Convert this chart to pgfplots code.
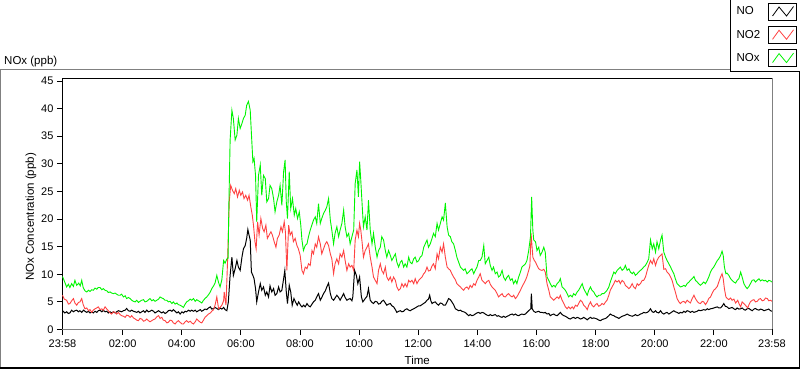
\documentclass[border=0pt]{standalone}
\usepackage{fontspec}
\setmainfont{Liberation Sans}
\usepackage{pgfplots}
\usepackage{pgfplotstable}
\pgfplotsset{compat=1.18}
\definecolor{noxgreen}{RGB}{0,245,0}
\definecolor{no2red}{RGB}{255,66,66}
\definecolor{framegray}{RGB}{128,128,128}

\pgfplotstableread{
h v
0 3.4
0.08 3.0
0.14 3.2
0.2 2.9
0.25 3.0
0.31 3.5
0.37 3.2
0.42 3.4
0.48 3.5
0.54 3.2
0.59 3.4
0.65 3.1
0.71 3.5
0.76 3.3
0.82 3.1
0.88 3.3
0.93 3.0
0.99 3.2
1.04 3.0
1.1 3.3
1.16 3.1
1.21 3.4
1.27 3.5
1.33 3.2
1.38 3.5
1.44 3.2
1.5 3.3
1.55 3.0
1.61 3.2
1.66 3.0
1.72 3.2
1.78 3.0
1.83 3.2
1.89 3.4
1.95 3.3
2.0 3.2
2.06 3.4
2.12 3.5
2.17 3.8
2.23 3.4
2.29 3.3
2.34 3.5
2.4 3.3
2.46 3.2
2.51 3.1
2.57 3.3
2.62 3.0
2.68 3.2
2.74 3.4
2.79 3.1
2.85 3.5
2.91 3.2
2.96 3.3
3.02 3.5
3.08 3.3
3.13 3.0
3.19 3.2
3.25 3.4
3.3 3.2
3.36 3.0
3.41 3.2
3.47 2.9
3.53 3.1
3.58 3.4
3.64 3.5
3.7 3.3
3.75 3.6
3.81 3.3
3.87 3.0
3.92 3.2
3.98 2.8
4.04 3.2
4.09 3.0
4.15 3.3
4.2 3.2
4.26 3.5
4.32 3.3
4.37 3.5
4.43 3.3
4.49 3.5
4.54 3.2
4.6 3.4
4.66 3.6
4.71 3.3
4.77 3.5
4.82 3.7
4.88 3.6
4.94 3.9
5.0 4.1
5.05 3.7
5.11 3.8
5.16 4.0
5.22 3.8
5.28 3.6
5.33 3.9
5.39 3.7
5.45 4.0
5.5 3.6
5.56 3.4
5.61 5.0
5.67 9.8
5.73 13.1
5.78 9.8
5.84 11.0
5.9 12.5
5.95 11.3
6.01 10.7
6.07 13.1
6.12 14.6
6.18 15.2
6.23 16.5
6.27 18.1
6.31 17.1
6.35 16.2
6.39 10.4
6.44 9.8
6.48 9.2
6.53 7.4
6.57 5.0
6.63 6.8
6.69 8.3
6.74 7.1
6.8 7.7
6.86 6.2
6.91 6.8
6.97 5.9
7.02 7.9
7.08 6.8
7.14 7.4
7.19 6.2
7.25 6.5
7.31 7.7
7.36 6.8
7.42 7.1
7.48 9.2
7.52 10.7
7.57 6.8
7.61 4.7
7.67 8.0
7.72 6.8
7.77 4.4
7.83 5.6
7.88 5.0
7.94 4.4
7.99 5.0
8.05 4.4
8.1 4.1
8.16 4.4
8.21 4.1
8.27 4.7
8.32 4.3
8.38 4.1
8.44 4.6
8.49 5.0
8.55 5.3
8.6 5.9
8.66 6.5
8.72 5.3
8.77 5.8
8.83 6.5
8.89 7.0
8.94 7.7
9.0 8.4
9.06 6.5
9.11 5.6
9.17 5.3
9.22 5.7
9.28 6.2
9.34 5.8
9.39 5.3
9.45 5.9
9.51 6.5
9.56 5.8
9.62 5.3
9.68 5.5
9.73 5.6
9.79 5.2
9.82 5.9
9.88 10.7
9.94 9.8
9.99 8.3
10.05 9.5
10.11 5.9
10.16 5.0
10.24 5.6
10.3 6.0
10.35 7.4
10.41 5.3
10.47 4.9
10.52 4.7
10.58 5.1
10.64 5.0
10.69 4.6
10.75 4.7
10.8 5.1
10.86 5.3
10.92 4.8
10.97 4.4
11.03 4.6
11.09 4.7
11.14 4.3
11.2 4.1
11.26 3.6
11.31 3.1
11.37 3.3
11.43 3.4
11.48 3.2
11.54 3.3
11.59 3.6
11.65 3.75
11.71 3.5
11.76 3.4
11.82 3.6
11.88 3.75
11.93 3.9
11.99 4.1
12.05 4.3
12.1 4.3
12.16 4.5
12.21 4.7
12.27 4.9
12.33 5.3
12.38 5.5
12.42 6.2
12.46 5.2
12.5 4.7
12.55 4.9
12.61 5.0
12.67 4.6
12.72 4.4
12.78 4.8
12.84 4.7
12.89 4.4
12.95 4.4
13.01 5.0
13.06 5.6
13.12 5.4
13.17 5.0
13.23 4.5
13.29 3.75
13.34 3.6
13.4 3.4
13.46 3.5
13.51 3.3
13.57 3.2
13.62 3.1
13.68 2.8
13.74 2.5
13.79 2.7
13.85 2.5
13.91 2.6
13.96 2.8
14.02 3.0
14.08 3.1
14.13 2.9
14.19 3.1
14.25 3.0
14.3 2.8
14.36 2.6
14.42 2.5
14.47 2.7
14.53 2.5
14.58 2.6
14.64 2.7
14.7 2.4
14.75 2.5
14.81 2.3
14.87 2.2
14.92 2.4
14.98 2.2
15.04 2.4
15.09 2.5
15.15 2.7
15.21 2.8
15.26 2.6
15.32 2.8
15.37 2.6
15.43 2.5
15.49 2.7
15.54 2.8
15.6 2.7
15.66 2.8
15.71 3.1
15.77 3.4
15.84 3.75
15.86 6.5
15.89 3.75
15.94 3.3
16.0 3.1
16.05 3.2
16.11 3.3
16.16 3.1
16.22 3.1
16.28 3.0
16.33 3.1
16.39 2.8
16.45 2.9
16.5 2.5
16.56 2.7
16.62 2.8
16.67 2.6
16.73 2.5
16.79 2.8
16.84 3.1
16.9 2.7
16.96 2.5
17.01 2.4
17.07 2.2
17.12 2.0
17.18 1.9
17.24 2.1
17.29 2.2
17.35 2.0
17.41 2.2
17.46 2.1
17.52 1.9
17.58 2.0
17.63 2.2
17.69 2.0
17.75 1.75
17.8 2.0
17.86 2.2
17.91 2.0
17.97 2.1
18.03 2.0
18.08 1.9
18.14 1.7
18.2 1.6
18.25 1.8
18.31 1.9
18.37 2.0
18.42 2.2
18.48 2.5
18.53 2.8
18.59 2.6
18.65 2.5
18.7 2.3
18.76 2.2
18.82 2.0
18.87 2.2
18.93 2.4
18.99 2.5
19.04 2.6
19.1 2.8
19.16 2.6
19.21 2.5
19.27 2.4
19.32 2.5
19.38 2.7
19.44 2.5
19.49 2.6
19.55 2.8
19.61 2.9
19.66 3.1
19.72 3.0
19.78 3.1
19.83 3.3
19.89 3.75
19.95 3.2
20.0 3.1
20.06 3.4
20.11 3.1
20.17 3.0
20.23 3.4
20.28 3.0
20.34 2.8
20.4 3.0
20.45 3.1
20.51 2.8
20.57 3.0
20.62 3.2
20.68 3.4
20.73 3.2
20.79 3.1
20.85 2.9
20.9 3.1
20.96 3.0
21.02 3.3
21.07 3.1
21.13 3.4
21.19 3.3
21.24 3.1
21.3 3.3
21.36 3.1
21.41 3.2
21.47 3.3
21.52 3.5
21.58 3.4
21.64 3.5
21.69 3.6
21.75 3.5
21.81 3.75
21.86 3.6
21.92 3.75
21.98 3.8
22.03 3.9
22.09 4.0
22.15 4.1
22.2 3.9
22.26 3.9
22.31 4.2
22.37 4.7
22.42 4.2
22.48 4.1
22.54 3.8
22.6 3.9
22.65 4.0
22.71 3.75
22.77 3.6
22.82 3.9
22.88 3.7
22.94 3.75
22.99 3.9
23.05 3.6
23.1 3.5
23.16 3.75
23.22 3.8
23.27 3.6
23.33 3.4
23.39 3.7
23.44 3.8
23.5 3.6
23.56 3.5
23.61 3.7
23.67 3.6
23.73 3.4
23.78 3.5
23.84 3.6
23.89 3.7
23.95 3.4
24.0 3.3
}\tableNO

\pgfplotstableread{
h v
0 6.2
0.06 5.5
0.14 5.3
0.2 4.6
0.25 4.7
0.31 5.2
0.37 5.6
0.42 4.8
0.48 4.4
0.54 4.9
0.59 5.0
0.65 5.6
0.7 4.5
0.76 3.75
0.82 3.9
0.88 3.4
0.93 3.6
0.99 3.1
1.04 3.5
1.1 3.75
1.16 3.9
1.21 4.1
1.27 3.6
1.33 3.75
1.38 3.5
1.44 4.1
1.5 3.7
1.55 3.4
1.61 3.0
1.66 2.8
1.72 3.2
1.78 3.1
1.83 2.8
1.89 3.1
1.95 2.7
2.0 2.5
2.06 2.4
2.12 2.2
2.17 2.6
2.23 2.5
2.29 2.2
2.34 2.5
2.4 2.1
2.46 1.9
2.51 1.7
2.57 1.6
2.62 2.0
2.68 1.9
2.74 1.5
2.79 1.6
2.85 1.9
2.91 1.6
2.96 1.4
3.02 1.6
3.08 1.8
3.13 1.9
3.19 2.3
3.25 2.5
3.3 2.0
3.36 2.2
3.41 1.7
3.47 1.6
3.53 1.2
3.58 1.3
3.64 1.7
3.7 1.6
3.75 1.2
3.81 1.0
3.87 1.4
3.92 1.6
3.98 1.3
4.04 1.0
4.09 1.0
4.15 1.4
4.2 1.6
4.26 1.3
4.32 1.5
4.37 1.2
4.43 1.0
4.49 1.4
4.54 1.9
4.6 1.6
4.66 1.3
4.71 1.2
4.77 1.7
4.82 2.2
4.88 2.5
4.94 2.8
5.0 3.0
5.05 3.3
5.11 3.6
5.16 4.4
5.22 5.9
5.28 3.75
5.33 4.0
5.39 4.4
5.45 5.2
5.47 6.8
5.53 4.4
5.59 13.4
5.64 23.1
5.69 26.1
5.75 25.2
5.81 24.6
5.86 25.5
5.92 24.0
5.98 25.2
6.03 24.3
6.09 24.9
6.14 23.7
6.2 24.3
6.26 23.4
6.31 24.3
6.37 22.2
6.42 20.7
6.46 18.9
6.51 15.9
6.55 14.6
6.6 19.5
6.65 17.1
6.71 20.1
6.77 18.3
6.82 17.7
6.88 18.9
6.93 16.5
6.99 17.1
7.05 17.7
7.1 17.1
7.16 15.9
7.22 14.9
7.27 16.5
7.33 17.1
7.39 18.6
7.44 17.7
7.5 19.5
7.54 17.7
7.59 10.7
7.65 18.9
7.7 17.1
7.76 17.7
7.81 15.9
7.87 16.5
7.93 15.2
7.98 14.6
8.04 13.4
8.1 10.7
8.15 10.1
8.21 11.3
8.27 11.0
8.32 11.9
8.38 11.6
8.44 14.3
8.49 13.7
8.55 15.5
8.6 14.9
8.66 16.8
8.72 15.5
8.77 13.7
8.83 14.6
8.89 15.5
8.94 15.9
9.0 15.2
9.06 13.7
9.11 12.8
9.17 10.1
9.22 11.9
9.28 12.8
9.34 11.9
9.39 13.7
9.45 13.1
9.51 14.3
9.56 12.5
9.62 10.7
9.68 11.9
9.73 11.3
9.79 11.6
9.85 10.7
9.9 16.2
9.96 18.0
10.01 16.8
10.05 19.2
10.09 18.0
10.14 15.5
10.18 13.1
10.24 14.3
10.3 14.9
10.35 15.5
10.41 13.1
10.47 11.3
10.52 9.5
10.58 8.9
10.64 8.3
10.69 10.7
10.75 11.9
10.8 10.7
10.86 10.1
10.92 11.3
10.97 9.5
11.03 8.9
11.09 9.5
11.14 8.6
11.2 9.5
11.26 8.9
11.31 7.7
11.37 7.1
11.43 7.4
11.48 8.3
11.54 7.7
11.59 8.3
11.65 7.7
11.71 8.9
11.76 8.6
11.82 8.9
11.88 8.3
11.93 9.2
11.99 8.3
12.05 8.9
12.1 9.2
12.16 9.5
12.22 10.1
12.27 10.4
12.33 11.3
12.38 10.6
12.44 10.7
12.5 11.5
12.55 11.9
12.61 11.0
12.67 13.7
12.72 12.8
12.78 14.9
12.84 14.0
12.89 15.5
12.95 13.1
13.01 11.3
13.06 11.0
13.12 10.7
13.17 10.1
13.23 9.5
13.29 9.0
13.34 8.3
13.4 8.0
13.46 7.7
13.51 7.4
13.57 7.1
13.62 7.5
13.68 7.7
13.74 7.3
13.79 8.0
13.85 7.6
13.91 8.3
13.96 8.0
14.02 8.9
14.08 9.5
14.13 10.1
14.19 8.9
14.25 8.6
14.3 8.3
14.36 8.7
14.42 8.9
14.47 8.2
14.53 7.7
14.58 7.4
14.64 7.1
14.7 6.5
14.75 5.9
14.81 6.2
14.87 6.5
14.92 6.0
14.98 5.9
15.04 6.3
15.09 6.5
15.15 6.1
15.21 5.9
15.26 6.2
15.32 5.6
15.37 5.9
15.43 6.5
15.49 7.1
15.54 7.7
15.6 8.3
15.66 8.9
15.71 9.6
15.77 10.7
15.81 11.5
15.85 17.4
15.91 13.1
15.96 12.5
16.0 12.2
16.05 11.6
16.11 11.0
16.16 10.8
16.22 10.7
16.28 10.9
16.33 10.4
16.39 8.3
16.45 7.1
16.5 5.9
16.56 5.6
16.62 5.3
16.67 5.6
16.73 5.9
16.79 5.6
16.84 6.2
16.9 5.3
16.96 4.7
17.01 4.1
17.07 3.75
17.12 4.1
17.18 3.75
17.24 4.1
17.29 3.75
17.35 4.4
17.41 4.2
17.46 4.7
17.52 5.3
17.58 5.0
17.63 4.4
17.69 4.1
17.75 3.6
17.8 4.4
17.86 5.0
17.91 4.4
17.97 4.1
18.03 4.5
18.08 4.7
18.14 4.2
18.2 4.4
18.25 4.7
18.31 4.5
18.37 5.0
18.42 5.3
18.48 6.2
18.53 7.1
18.59 7.7
18.65 8.3
18.7 8.9
18.76 8.6
18.82 8.9
18.87 8.3
18.93 8.9
18.99 8.6
19.04 8.0
19.1 7.7
19.16 7.4
19.21 7.7
19.27 8.3
19.32 7.7
19.38 7.4
19.44 8.3
19.49 8.0
19.55 8.3
19.61 8.9
19.66 8.9
19.72 9.5
19.78 10.7
19.83 11.6
19.89 12.5
19.95 11.9
20.0 12.8
20.06 11.6
20.11 12.5
20.17 13.1
20.23 13.4
20.28 13.7
20.34 10.9
20.4 11.0
20.45 10.4
20.51 10.1
20.57 9.5
20.62 8.9
20.68 7.7
20.73 6.8
20.79 5.6
20.85 5.0
20.9 4.7
20.96 5.0
21.02 5.1
21.07 4.8
21.13 5.3
21.19 5.0
21.24 4.8
21.3 5.6
21.36 6.2
21.41 5.6
21.47 5.1
21.52 4.8
21.58 4.7
21.64 5.1
21.69 5.0
21.75 4.5
21.81 5.0
21.86 5.6
21.92 5.9
21.98 6.6
22.03 7.1
22.09 7.4
22.15 7.8
22.2 8.6
22.26 9.5
22.31 10.1
22.35 9.2
22.39 7.4
22.44 5.9
22.49 5.6
22.54 5.4
22.6 5.7
22.65 5.3
22.71 5.5
22.77 4.8
22.84 5.3
22.89 4.6
22.94 4.1
22.99 5.0
23.05 4.7
23.1 4.4
23.18 3.9
23.22 4.5
23.27 5.0
23.33 5.3
23.39 5.4
23.44 5.0
23.5 5.1
23.56 5.5
23.61 5.6
23.67 5.2
23.73 5.3
23.78 5.7
23.84 5.6
23.89 5.2
23.95 5.3
24.0 5.1
}\tableNOtwo

\pgfplotstableread{
h v
0 9.6
0.06 8.8
0.14 7.7
0.2 8.2
0.25 7.6
0.31 8.3
0.37 7.8
0.42 8.9
0.48 8.0
0.55 8.4
0.6 7.9
0.65 8.9
0.7 7.6
0.76 7.0
0.82 6.8
0.88 7.1
0.93 6.9
0.99 7.2
1.04 7.1
1.1 7.5
1.16 7.3
1.21 7.6
1.27 7.6
1.33 7.2
1.38 7.4
1.44 7.1
1.5 7.0
1.55 6.7
1.61 6.8
1.66 6.6
1.72 6.5
1.78 6.6
1.83 6.4
1.89 6.2
1.95 6.2
2.0 6.4
2.06 5.9
2.12 6.1
2.17 5.6
2.23 5.8
2.29 5.6
2.34 5.3
2.4 5.1
2.46 5.0
2.51 5.3
2.57 4.9
2.62 5.1
2.68 5.3
2.74 5.4
2.79 5.0
2.85 5.1
2.91 5.4
2.96 5.6
3.02 5.2
3.08 5.4
3.13 5.1
3.19 5.3
3.25 5.5
3.3 5.9
3.36 5.7
3.41 5.6
3.47 5.3
3.53 5.3
3.58 5.0
3.64 5.1
3.7 4.7
3.75 5.0
3.81 4.6
3.87 4.8
3.92 4.5
3.98 4.4
4.04 4.2
4.09 4.0
4.15 4.6
4.2 5.0
4.26 5.2
4.32 5.5
4.37 5.3
4.43 5.6
4.49 5.1
4.54 5.4
4.6 5.2
4.66 5.0
4.71 4.8
4.77 5.3
4.82 5.6
4.88 5.9
4.94 6.3
5.0 6.8
5.05 7.4
5.11 7.9
5.16 8.4
5.22 9.8
5.28 8.5
5.33 7.7
5.39 9.0
5.45 12.5
5.5 12.0
5.56 12.8
5.6 12.9
5.63 23.1
5.67 34.3
5.73 39.7
5.78 38.2
5.84 34.3
5.9 35.2
5.95 38.2
6.01 36.4
6.07 37.3
6.12 38.2
6.18 38.8
6.23 40.6
6.29 41.3
6.35 39.7
6.39 35.5
6.44 30.4
6.48 31.0
6.53 27.9
6.57 19.5
6.63 27.9
6.69 29.8
6.74 24.3
6.8 27.9
6.86 27.3
6.91 23.1
6.97 23.7
7.02 26.1
7.08 25.5
7.14 23.7
7.19 21.3
7.25 23.1
7.31 24.3
7.36 26.1
7.42 22.5
7.48 28.6
7.53 30.7
7.57 23.1
7.61 20.1
7.67 28.6
7.72 21.9
7.78 23.7
7.84 20.7
7.89 21.9
7.95 20.1
8.01 21.3
8.06 18.9
8.1 16.2
8.15 14.3
8.21 15.2
8.27 15.5
8.32 16.8
8.38 18.0
8.44 19.0
8.49 19.8
8.55 20.4
8.6 19.2
8.66 22.8
8.72 19.2
8.77 20.1
8.83 21.0
8.89 21.6
8.94 22.2
9.0 23.7
9.06 19.8
9.11 18.0
9.17 15.5
9.22 17.4
9.28 18.6
9.34 16.8
9.39 18.0
9.45 19.2
9.51 21.6
9.56 18.6
9.62 16.8
9.68 17.4
9.73 15.5
9.79 16.8
9.85 18.0
9.9 26.4
9.96 28.9
10.01 24.0
10.05 30.4
10.09 27.0
10.14 22.2
10.18 18.6
10.24 20.4
10.3 18.0
10.35 23.4
10.41 18.0
10.47 15.5
10.52 17.4
10.58 14.9
10.64 13.1
10.69 14.3
10.75 14.9
10.8 16.8
10.86 16.2
10.92 14.3
10.97 13.1
11.03 14.3
11.09 13.4
11.14 12.5
11.2 13.1
11.26 13.7
11.31 12.2
11.37 11.3
11.43 12.2
11.48 12.5
11.54 11.3
11.59 11.9
11.65 11.3
11.71 13.1
11.76 12.2
11.82 11.9
11.88 12.8
11.93 13.1
11.99 12.2
12.05 12.5
12.1 13.1
12.16 13.4
12.22 14.9
12.27 15.5
12.33 16.2
12.38 14.9
12.44 15.5
12.5 16.5
12.55 17.4
12.61 16.8
12.67 19.2
12.72 18.0
12.78 19.2
12.84 20.4
12.89 19.8
12.95 22.9
13.01 18.6
13.06 17.1
13.12 16.8
13.17 15.9
13.23 15.5
13.29 14.3
13.34 13.1
13.4 12.2
13.46 11.3
13.51 11.0
13.57 10.7
13.62 11.0
13.68 10.1
13.74 10.4
13.79 10.7
13.85 11.0
13.91 10.1
13.96 10.7
14.02 11.3
14.08 12.5
14.13 12.5
14.19 13.1
14.25 15.2
14.3 11.9
14.36 12.5
14.42 13.1
14.47 11.6
14.53 10.7
14.58 11.3
14.64 10.1
14.7 10.4
14.75 9.5
14.81 9.8
14.87 10.7
14.92 9.5
14.98 8.9
15.04 9.5
15.09 9.8
15.15 8.9
15.21 9.2
15.26 8.3
15.32 8.9
15.37 8.3
15.43 9.5
15.49 10.4
15.54 11.3
15.6 11.6
15.66 11.9
15.71 12.5
15.77 14.3
15.83 16.8
15.87 24.0
15.91 18.0
15.94 16.2
16.0 15.9
16.05 14.3
16.11 14.9
16.16 13.4
16.22 14.0
16.28 14.9
16.33 14.0
16.39 9.5
16.45 8.9
16.5 8.3
16.56 7.7
16.62 8.0
16.67 7.7
16.73 8.3
16.79 8.6
16.84 9.2
16.9 7.7
16.96 7.4
17.01 7.1
17.07 6.5
17.12 5.9
17.18 6.2
17.24 5.9
17.29 6.5
17.35 6.2
17.41 6.8
17.46 7.1
17.52 7.7
17.58 8.3
17.63 7.4
17.69 6.8
17.75 6.2
17.8 7.1
17.86 7.7
17.91 7.1
17.97 6.8
18.03 6.2
18.08 5.9
18.14 6.2
18.2 6.2
18.25 6.5
18.31 6.5
18.37 6.8
18.42 7.1
18.48 7.7
18.53 8.6
18.59 9.5
18.65 10.4
18.7 10.1
18.76 10.7
18.82 11.0
18.87 11.3
18.93 10.7
18.99 11.0
19.04 11.6
19.1 10.7
19.16 11.0
19.21 10.4
19.27 10.1
19.32 10.4
19.38 9.8
19.44 10.1
19.49 10.4
19.55 10.7
19.61 11.0
19.66 11.3
19.72 11.6
19.78 12.2
19.83 12.8
19.89 16.2
19.95 14.6
20.0 15.5
20.06 14.0
20.11 15.9
20.17 14.6
20.23 16.2
20.28 17.1
20.34 14.0
20.4 13.1
20.45 12.5
20.51 11.9
20.57 11.3
20.62 10.7
20.68 10.1
20.73 9.2
20.79 8.3
20.85 8.0
20.9 7.7
20.96 7.8
21.02 8.0
21.07 7.8
21.13 8.3
21.19 8.6
21.24 8.9
21.3 9.2
21.36 9.6
21.41 8.9
21.47 8.6
21.52 8.3
21.58 8.0
21.64 8.3
21.69 8.6
21.75 8.3
21.81 8.9
21.86 9.5
21.92 10.4
21.98 11.0
22.03 11.3
22.09 11.9
22.15 12.5
22.2 12.8
22.26 13.4
22.31 14.2
22.35 13.4
22.39 11.3
22.44 10.1
22.48 10.2
22.54 9.8
22.6 9.2
22.65 8.9
22.71 8.6
22.77 8.4
22.82 8.9
22.88 9.2
22.94 10.4
22.99 9.5
23.05 8.3
23.1 7.8
23.16 7.4
23.22 7.8
23.27 8.3
23.33 8.9
23.39 9.0
23.44 8.6
23.5 8.9
23.56 9.2
23.61 8.8
23.67 9.0
23.73 8.8
23.78 8.9
23.84 8.6
23.89 8.9
23.95 8.8
24.0 8.6
}\tableNOx

\begin{document}
\begin{tikzpicture}
\useasboundingbox (0,0) rectangle (800pt,369pt);
% outer panel frame
\draw[framegray, line width=1pt] (0.5pt,0pt) -- (0.5pt,299.5pt) -- (731pt,299.5pt);
\draw[black, line width=1.5pt] (0pt,1pt) -- (800pt,1pt);
\draw[black, line width=1pt] (799.5pt,1pt) -- (799.5pt,297pt);
\node[anchor=base west, inner sep=0pt, font=\fontsize{11.5}{13}\selectfont] at (4pt,304pt) {NOx (ppb)};
\begin{axis}[
  at={(62.5pt,39.5pt)}, anchor=south west,
  width=709.5pt, height=251pt, scale only axis,
  xmin=0, xmax=24, ymin=0, ymax=45.45,
  enlargelimits=false, clip=false,
  axis lines=left,
  axis line style={-},
  x axis line style={framegray, line width=1pt},
  y axis line style={black, line width=1pt},
  xtick={0,2.0333,4.0333,6.0333,8.0333,10.0333,12.0333,14.0333,16.0333,18.0333,20.0333,22.0333,24},
  xticklabels={23:58,02:00,04:00,06:00,08:00,10:00,12:00,14:00,16:00,18:00,20:00,22:00,23:58},
  minor x tick num=7,
  ytick={0,5,...,45},
  tick align=outside,
  major tick length=5.5pt, minor tick length=3.5pt,
  tick style={black, line width=0.8pt},
  tick label style={font=\fontsize{11}{12}\selectfont, black},
  xticklabel style={yshift=-1.5pt},
  /pgf/number format/assume math mode=true,
  xlabel={Time}, ylabel={NOx Concentration (ppb)},
  label style={font=\fontsize{11.5}{13}\selectfont},
  xlabel style={at={(axis description cs:0.5,-0.1375)}, anchor=base},
  ylabel style={at={(axis description cs:-0.0444,0.448)}, anchor=center},
  legend plot pos=right,
  legend cell align=left,
  legend style={at={(axis description cs:0.9408,1.0259)}, anchor=south west,
    draw=black, line width=1pt, fill=white,
    font=\fontsize{11.5}{13}\selectfont,
    inner xsep=6pt, inner ysep=4.5pt, row sep=5.5pt, column sep=8pt,
    nodes={inner sep=0pt}},
  legend image code/.code={
    \draw[black, fill=white, line width=0.8pt] (0pt,-8.5pt) rectangle (28pt,8.5pt);
    \draw[#1, line width=0.8pt] (4pt,-4.5pt) -- (10.5pt,4.5pt) -- (18pt,-4.5pt) -- (25pt,5pt);
  },
]
\addplot[black, line width=1pt, mark=none] table[x=h, y=v] {\tableNO};
\addlegendentry{NO}
\addplot[no2red, line width=0.9pt, mark=none] table[x=h, y=v] {\tableNOtwo};
\addlegendentry{NO2}
\addplot[noxgreen, line width=0.9pt, mark=none] table[x=h, y=v] {\tableNOx};
\addlegendentry{NOx}
\draw[black, line width=1pt] (rel axis cs:0,1) -- (rel axis cs:1,1);
\draw[framegray, line width=1pt] (rel axis cs:1,0) -- (rel axis cs:1,1);
\end{axis}
\end{tikzpicture}
\end{document}
